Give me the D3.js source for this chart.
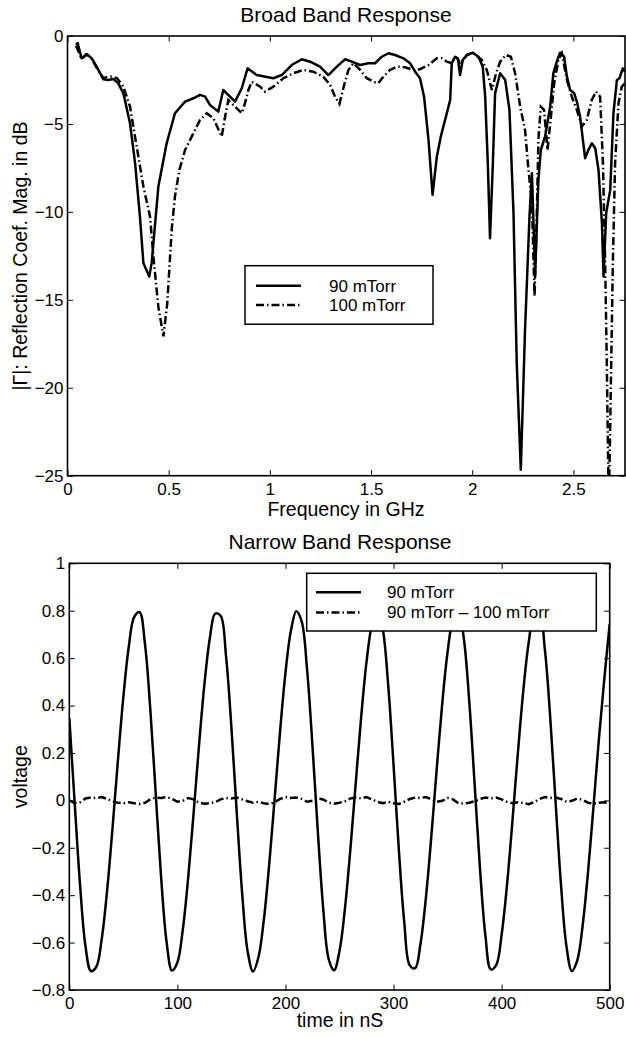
<!DOCTYPE html>
<html>
<head>
<meta charset="utf-8">
<script src="https://cdn.jsdelivr.net/npm/d3@7"></script>
<style>
body { margin: 0; background: #fff; }
svg text { font-family: "Liberation Sans", Arial, Helvetica, sans-serif; fill: #000; }
</style>
</head>
<body>
<script>
// ---- broad band data ----
const freq90 = [0.042, 0.05, 0.07, 0.095, 0.12, 0.144, 0.177, 0.202, 0.226, 0.251, 0.276, 0.309, 0.334, 0.358, 0.375, 0.404, 0.416, 0.449, 0.49, 0.531,
  0.581, 0.622, 0.655, 0.68, 0.704, 0.745, 0.77, 0.803, 0.828, 0.861, 0.89, 0.935, 1.017, 1.059, 1.108, 1.158, 1.199, 1.248, 1.289, 1.331,
  1.372, 1.405, 1.446, 1.487, 1.52, 1.553, 1.586, 1.619, 1.66, 1.693, 1.718, 1.742, 1.762, 1.784, 1.804, 1.825, 1.845, 1.866, 1.891, 1.899,
  1.915, 1.929, 1.94, 1.953, 1.973, 2.003, 2.031, 2.052, 2.064, 2.077, 2.088, 2.102, 2.113, 2.138, 2.163, 2.184, 2.204, 2.22, 2.24, 2.261,
  2.283, 2.295, 2.311, 2.327, 2.339, 2.36, 2.385, 2.401, 2.418, 2.434, 2.454, 2.468, 2.484, 2.504, 2.517, 2.533, 2.558, 2.574, 2.591, 2.608,
  2.624, 2.641, 2.649, 2.662, 2.682, 2.698, 2.715, 2.728, 2.744, 2.755];
const mag90 = [-0.5, -0.4, -1.27, -1.02, -1.27, -1.74, -2.46, -2.5, -2.44, -2.69, -3.26, -4.96, -7.23, -10.27, -12.9, -13.67, -12.9, -8.56, -6.1, -4.39,
  -3.73, -3.54, -3.35, -3.45, -3.92, -4.3, -3.07, -3.45, -3.73, -2.97, -1.84, -2.22, -2.4, -2.22, -1.65, -1.32, -1.46, -1.74, -2.22, -1.74,
  -1.32, -1.46, -1.65, -1.55, -1.55, -1.18, -0.98, -1.08, -1.27, -1.55, -2.03, -2.4, -3.45, -5.9, -9.03, -6.86, -5.7, -4.77, -3.64, -1.55,
  -1.18, -1.27, -2.22, -1.36, -1.08, -0.95, -1.18, -1.74, -3.45, -7.23, -11.5, -7.23, -3.26, -2.12, -2.5, -4.2, -10.07, -18.6, -24.66, -16.7,
  -10.27, -7.8, -13.58, -8.18, -6.48, -5.72, -4.02, -2.12, -1.46, -0.95, -1.18, -2.31, -3.07, -3.26, -3.73, -4.58, -6.95, -6.48, -6.1, -6.38,
  -7.61, -10.64, -13.67, -10.07, -8.75, -4.39, -2.5, -2.4, -1.84, -2.03];

const freq100 = [0.042, 0.07, 0.095, 0.12, 0.144, 0.177, 0.202, 0.218, 0.245, 0.276, 0.309, 0.342, 0.375, 0.408, 0.424, 0.449, 0.474, 0.493, 0.515, 0.531,
  0.553, 0.581, 0.622, 0.655, 0.688, 0.721, 0.762, 0.779, 0.795, 0.828, 0.861, 0.877, 0.894, 0.911, 0.952, 0.976, 1.017, 1.067, 1.116, 1.166,
  1.215, 1.264, 1.298, 1.322, 1.344, 1.363, 1.388, 1.413, 1.446, 1.479, 1.512, 1.536, 1.561, 1.594, 1.627, 1.668, 1.709, 1.742, 1.784, 1.825,
  1.85, 1.874, 1.899, 1.915, 1.929, 1.94, 1.953, 1.973, 2.003, 2.047, 2.072, 2.097, 2.118, 2.138, 2.167, 2.191, 2.212, 2.237, 2.261, 2.278,
  2.295, 2.308, 2.319, 2.327, 2.339, 2.355, 2.372, 2.389, 2.405, 2.426, 2.443, 2.468, 2.492, 2.517, 2.542, 2.566, 2.591, 2.612, 2.632, 2.646,
  2.657, 2.665, 2.675, 2.685, 2.695, 2.706, 2.723, 2.739, 2.755];
const mag100 = [-0.55, -1.3, -1.05, -1.3, -1.8, -2.4, -2.3, -2.31, -2.4, -2.88, -4.02, -6.29, -8.56, -10.27, -12.5, -15.4, -17.08, -15.2, -11.0, -9.13,
  -7.61, -6.48, -5.53, -4.77, -4.39, -4.68, -5.72, -4.58, -3.64, -4.02, -4.39, -3.82, -3.07, -2.6, -2.88, -3.16, -2.88, -2.4, -2.12, -1.93,
  -2.03, -2.31, -2.78, -3.45, -3.86, -2.97, -1.93, -1.55, -1.93, -2.4, -2.6, -2.69, -2.31, -1.93, -1.74, -1.78, -1.93, -1.89, -1.65, -1.27,
  -1.27, -1.46, -1.55, -1.2, -1.3, -1.6, -1.4, -1.1, -0.95, -1.36, -1.93, -3.07, -2.12, -1.46, -1.08, -1.18, -2.12, -4.02, -5.34, -7.61,
  -9.5, -14.8, -10.27, -5.9, -4.02, -4.2, -6.48, -4.58, -2.69, -1.36, -0.98, -2.5, -3.45, -4.2, -5.15, -4.77, -3.64, -3.16, -3.45, -7.23,
  -12.9, -18.6, -27, -20, -12.9, -7.23, -3.82, -2.88, -2.69];

const freqTicks = [0, 0.5, 1, 1.5, 2, 2.5];
const dbTicks = [0, -5, -10, -15, -20, -25];
const topLegend = ["90 mTorr", "100 mTorr"];

// ---- narrow band data, sampled every 5 nS ----
const timeNs = d3.range(0, 501, 5);
const volt90 = [0.348, -0.012, -0.360, -0.616, -0.720, -0.702, -0.585, -0.380, -0.116, 0.169,
  0.436, 0.647, 0.773, 0.794, 0.660, 0.381, 0.025, -0.328, -0.597, -0.718,
  -0.684, -0.546, -0.326, -0.054, 0.230, 0.489, 0.683, 0.788, 0.779, 0.609,
  0.307, -0.056, -0.396, -0.637, -0.722, -0.662, -0.504, -0.268, 0.008, 0.290,
  0.538, 0.714, 0.798, 0.755, 0.552, 0.229, -0.135, -0.460, -0.670, -0.717,
  -0.635, -0.458, -0.210, 0.072, 0.349, 0.584, 0.741, 0.802, 0.724, 0.489,
  0.150, -0.214, -0.519, -0.696, -0.708, -0.603, -0.408, -0.150, 0.135, 0.406,
  0.626, 0.763, 0.800, 0.684, 0.421, 0.070, -0.289, -0.571, -0.713, -0.695,
  -0.567, -0.356, -0.088, 0.197, 0.460, 0.664, 0.779, 0.789, 0.637, 0.348,
  -0.012, -0.360, -0.616, -0.720, -0.675, -0.527, -0.300, -0.026, 0.258, 0.511,
  0.745];
const voltDiff = [0.000, -0.012, -0.008, 0.008, 0.012, 0.010, 0.014, 0.006, -0.004, -0.010,
  -0.012, -0.008, -0.012, -0.015, -0.010, 0.004, 0.012, 0.010, 0.014, 0.006,
  -0.006, -0.002, 0.010, 0.004, -0.010, -0.014, -0.012, -0.008, 0.004, 0.010,
  0.008, 0.012, 0.004, -0.004, -0.010, -0.006, -0.012, -0.016, -0.008, 0.006,
  0.014, 0.010, 0.012, 0.006, -0.006, -0.002, 0.008, 0.004, -0.010, -0.014,
  -0.010, -0.004, 0.008, 0.012, 0.008, 0.014, 0.004, -0.006, -0.012, -0.006,
  -0.012, -0.015, -0.006, 0.006, 0.012, 0.010, 0.014, 0.004, -0.006, -0.002,
  0.010, 0.004, -0.012, -0.014, -0.010, -0.004, 0.006, 0.012, 0.008, 0.012,
  0.004, -0.006, -0.012, -0.008, -0.012, -0.016, -0.008, 0.006, 0.014, 0.010,
  0.012, 0.006, -0.006, -0.002, 0.008, 0.002, -0.010, -0.014, -0.010, -0.008,
  -0.010];

const timeTicks = [0, 100, 200, 300, 400, 500];
const voltTicks = [-0.8, -0.6, -0.4, -0.2, 0, 0.2, 0.4, 0.6, 0.8, 1];
const bottomLegend = ["90 mTorr", "90 mTorr \u2013 100 mTorr"];

const DASHDOT = "8,3,1.5,3";
const TICK = 5.5;

const svg = d3.select("body").append("svg")
    .attr("width", 626)
    .attr("height", 1038);

// frame with inward ticks on all four sides
function drawFrame(x, y, xTicks, yTicks, fmtX, fmtY, clipId) {
  const [x0, x1] = x.range();
  const [y0, y1] = y.range();
  svg.append("clipPath").attr("id", clipId)
    .append("rect").attr("x", x0).attr("y", y1).attr("width", x1 - x0).attr("height", y0 - y1);

  const g = svg.append("g");
  g.append("g").attr("transform", `translate(0,${y0})`)
    .call(d3.axisBottom(x).tickValues(xTicks).tickFormat(fmtX).tickSizeInner(-TICK).tickSizeOuter(0).tickPadding(7));
  g.append("g").attr("transform", `translate(0,${y1})`)
    .call(d3.axisTop(x).tickValues(xTicks).tickFormat("").tickSizeInner(-TICK).tickSizeOuter(0));
  g.append("g").attr("transform", `translate(${x0},0)`)
    .call(d3.axisLeft(y).tickValues(yTicks).tickFormat(fmtY).tickSizeInner(-TICK).tickSizeOuter(0).tickPadding(4));
  g.append("g").attr("transform", `translate(${x1},0)`)
    .call(d3.axisRight(y).tickValues(yTicks).tickFormat("").tickSizeInner(-TICK).tickSizeOuter(0));

  g.selectAll(".domain").remove();
  g.selectAll(".tick line").attr("stroke", "#000").attr("stroke-width", 1);
  g.selectAll(".tick text").attr("font-size", 17).attr("font-family", null);
  g.selectAll("g").attr("font-family", null);

  g.append("rect")
    .attr("x", x0).attr("y", y1).attr("width", x1 - x0).attr("height", y0 - y1)
    .attr("fill", "none").attr("stroke", "#000").attr("stroke-width", 1.6);
}

function legend(x, y, w, h, labels, lineX0, lineX1, textX, rowY) {
  const g = svg.append("g");
  g.append("rect").attr("x", x).attr("y", y).attr("width", w).attr("height", h)
    .attr("fill", "#fff").attr("stroke", "#000").attr("stroke-width", 1.5);
  labels.forEach((lab, i) => {
    g.append("line").attr("x1", lineX0).attr("x2", lineX1)
      .attr("y1", rowY[i]).attr("y2", rowY[i])
      .attr("stroke", "#000").attr("stroke-width", 2.5)
      .attr("stroke-dasharray", i === 0 ? null : DASHDOT);
    g.append("text").attr("x", textX).attr("y", rowY[i]).attr("dy", "0.35em")
      .attr("font-size", 17).text(lab);
  });
}

// ================= Broad Band Response =================
const xF = d3.scaleLinear().domain([0, 2.755]).range([67.5, 625]);
const yDb = d3.scaleLinear().domain([-25, 0]).range([475.7, 36]);

drawFrame(xF, yDb, freqTicks, dbTicks, d3.format("~g"), d3.format("~g"), "clipTop");

const lineTop = d3.line().x(d => xF(d[0])).y(d => yDb(d[1]));
const topPlot = svg.append("g").attr("clip-path", "url(#clipTop)");
topPlot.append("path")
  .datum(d3.zip(freq100, mag100))
  .attr("d", lineTop)
  .attr("fill", "none").attr("stroke", "#000").attr("stroke-width", 2.5)
  .attr("stroke-dasharray", DASHDOT);
topPlot.append("path")
  .datum(d3.zip(freq90, mag90))
  .attr("d", lineTop)
  .attr("fill", "none").attr("stroke", "#000").attr("stroke-width", 2.5)
  .attr("stroke-linejoin", "round");

legend(245, 265.7, 188, 58.5, topLegend, 256, 301, 329, [285.7, 305]);

svg.append("text").attr("x", 346).attr("y", 21.7).attr("text-anchor", "middle")
  .attr("font-size", 21).text("Broad Band Response");
svg.append("text").attr("x", 346).attr("y", 516).attr("text-anchor", "middle")
  .attr("font-size", 19.5).text("Frequency in GHz");
svg.append("text").attr("transform", "translate(27,256) rotate(-90)").attr("text-anchor", "middle")
  .attr("font-size", 19.5).text("|\u0393|: Reflection Coef. Mag. in dB");

// ================= Narrow Band Response =================
const xT = d3.scaleLinear().domain([0, 500]).range([69.3, 609.7]);
const yV = d3.scaleLinear().domain([-0.8, 1]).range([990, 563.3]);

drawFrame(xT, yV, timeTicks, voltTicks, d3.format("~g"), d3.format("~g"), "clipBot");

const botPlot = svg.append("g").attr("clip-path", "url(#clipBot)");
botPlot.append("path")
  .datum(d3.zip(timeNs, volt90))
  .attr("d", d3.line().x(d => xT(d[0])).y(d => yV(d[1])).curve(d3.curveCatmullRom.alpha(0.5)))
  .attr("fill", "none").attr("stroke", "#000").attr("stroke-width", 2.5);
botPlot.append("path")
  .datum(d3.zip(timeNs, voltDiff))
  .attr("d", d3.line().x(d => xT(d[0])).y(d => yV(d[1])))
  .attr("fill", "none").attr("stroke", "#000").attr("stroke-width", 2.5)
  .attr("stroke-dasharray", DASHDOT);

legend(306.7, 573.3, 289.6, 57.7, bottomLegend, 316, 361, 387, [592.3, 612.5]);

svg.append("text").attr("x", 340).attr("y", 549.3).attr("text-anchor", "middle")
  .attr("font-size", 21).text("Narrow Band Response");
svg.append("text").attr("x", 340).attr("y", 1027).attr("text-anchor", "middle")
  .attr("font-size", 19.5).text("time in nS");
svg.append("text").attr("transform", "translate(27,776.7) rotate(-90)").attr("text-anchor", "middle")
  .attr("font-size", 19.5).text("voltage");
</script>
</body>
</html>
